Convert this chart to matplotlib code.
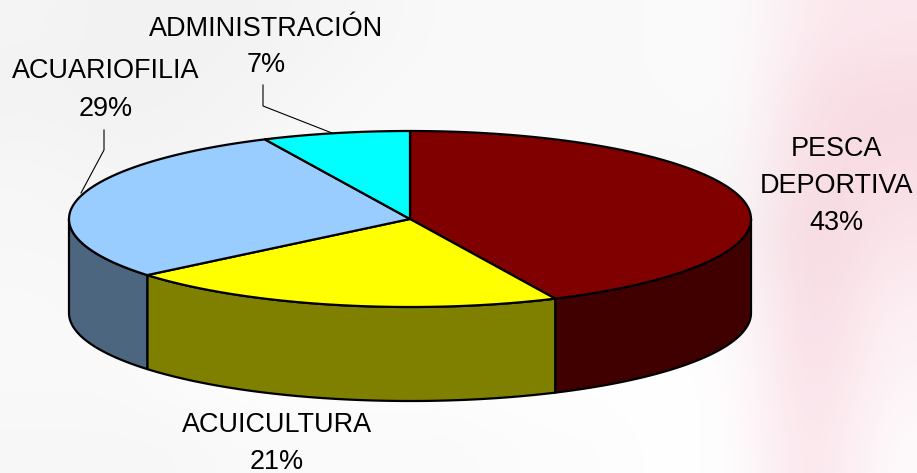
#!/usr/bin/env python3
"""3D style pie chart of activity shares, with a faint washed out background."""

import numpy as np
import matplotlib
matplotlib.use("Agg")
import matplotlib.pyplot as plt
from matplotlib.patches import Polygon

labels = ["PESCA\nDEPORTIVA", "ACUICULTURA", "ACUARIOFILIA", "ADMINISTRACIÓN"]
values = [43, 21, 29, 7]
top_colors = ["#800000", "#FFFF00", "#99CCFF", "#00FFFF"]
side_colors = ["#400000", "#808000", "#4D6680", "#008080"]

# label centres (pixels of the reference), leader lines where the original has them
label_pos = [(836, 186), (277, 443), (106, 90), (266, 47)]
leaders = [None, None,
           [(104, 130), (104, 150), (81, 193)],
           [(263, 85), (263, 106), (332, 133)]]

# backdrop: how grey / how pink each coarse cell is
grey_wash = [
    [.04, .05, .05, .05, .04, .03, .02, .02, .02, .02, .01, .00, .00],
    [.05, .05, .05, .04, .03, .02, .02, .02, .02, .02, .01, .00, .00],
    [.03, .04, .04, .03, .02, .02, .02, .02, .02, .03, .02, .00, .00],
    [.03, .03, .03, .02, .02, .02, .02, .02, .02, .03, .03, .01, .00],
    [.02, .03, .02, .01, .01, .01, .01, .01, .01, .01, .01, .00, .00],
    [.02, .02, .01, .00, .00, .00, .00, .00, .00, .00, .00, .00, .00],
    [.03, .03, .03, .02, .02, .02, .02, .01, .01, .00, .00, .00, .00],
]
pink_wash = [
    [.00, .00, .00, .00, .00, .00, .00, .00, .00, .00, .00, .50, .55],
    [.00, .00, .00, .00, .00, .00, .00, .00, .00, .00, .00, .75, .85],
    [.00, .00, .00, .00, .00, .00, .00, .00, .00, .00, .00, .85, .75],
    [.00, .00, .00, .00, .00, .00, .00, .00, .00, .00, .03, .95, .60],
    [.00, .00, .00, .00, .00, .00, .00, .00, .00, .00, .03, .90, .35],
    [.00, .00, .00, .00, .00, .00, .00, .00, .00, .00, .03, .85, .25],
    [.00, .00, .00, .00, .00, .00, .00, .00, .00, .00, .03, .70, .10],
]

W, H = 917, 473
CX, CY = 410, 219
RX, RY = 341, 88
DEPTH = 94
FONT_PX = 27
EDGE = 1.6


def rim(a0, a1, n=120):
    """Ellipse points going clockwise from 12 o'clock, angles in degrees."""
    t = np.radians(np.linspace(a0, a1, n))
    return np.column_stack([CX + RX * np.sin(t), CY - RY * np.cos(t)])


fig = plt.figure(figsize=(W / 100, H / 100), dpi=100)
ax = fig.add_axes([0, 0, 1, 1])
ax.axis("off")

grey = np.array(grey_wash)[..., None]
pink = np.array(pink_wash)[..., None]
bg = 1 - grey * np.array([1, 1, 1]) - pink * np.array([0.03, 0.17, 0.13])
ax.imshow(np.clip(bg, 0, 1), extent=(0, W, H, 0), aspect="auto",
          interpolation="bicubic", zorder=0)
ax.set_xlim(0, W)
ax.set_ylim(H, 0)

edges = np.concatenate([[0], np.cumsum(values)]) * 360 / sum(values)

# side walls first, only the part of the rim facing us (90 to 270 degrees)
for i in range(len(values)):
    a0, a1 = max(edges[i], 90), min(edges[i + 1], 270)
    if a1 <= a0:
        continue
    arc = rim(a0, a1)
    wall = np.vstack([arc, arc[::-1] + [0, DEPTH]])
    ax.add_patch(Polygon(wall, closed=True, facecolor=side_colors[i],
                         edgecolor="black", linewidth=EDGE, joinstyle="round", zorder=2))

for i in range(len(values)):
    arc = rim(edges[i], edges[i + 1])
    ax.add_patch(Polygon(np.vstack([[CX, CY], arc]), closed=True, facecolor=top_colors[i],
                         edgecolor="black", linewidth=EDGE, joinstyle="round", zorder=3))

for i in range(len(values)):
    ax.text(label_pos[i][0], label_pos[i][1], f"{labels[i]}\n{values[i]}%",
            ha="center", va="center", ma="center", fontsize=FONT_PX * 0.72,
            family="Liberation Sans", color="black", linespacing=1.55, zorder=5)
    if leaders[i]:
        xs, ys = zip(*leaders[i])
        ax.plot(xs, ys, color="black", linewidth=0.8, zorder=4)

fig.savefig("out.png", dpi=100)
